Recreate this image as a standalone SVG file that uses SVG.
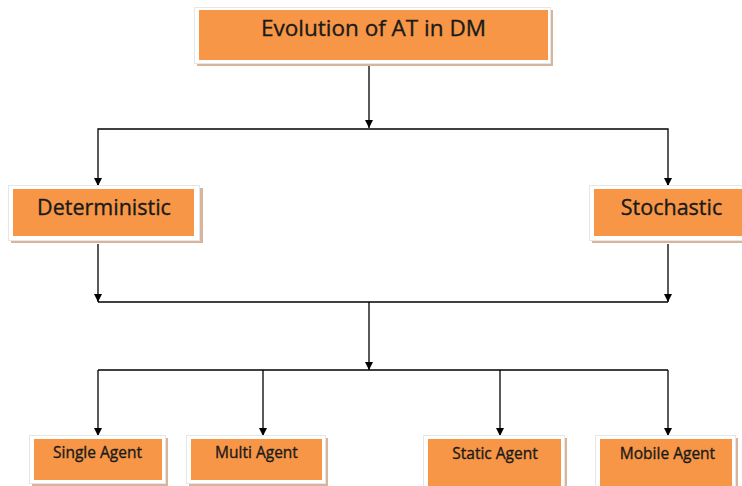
<svg xmlns="http://www.w3.org/2000/svg" width="742" height="486" viewBox="0 0 742 486">
<defs>
<marker id="ah" markerWidth="8" markerHeight="8" refX="8" refY="4" orient="auto" markerUnits="userSpaceOnUse" viewBox="0 0 8 8">
<path d="M0,0 L8,4 L0,8 Z" fill="#000"/>
</marker>
<style>
.sh{fill:#d7b49a}
.fr{fill:#fff;stroke:#e6e6e6;stroke-width:1}
.bx{fill:#f79646}
.t{font-family:"Open Sans","Liberation Sans",Arial,sans-serif;fill:#1a1a1a;stroke:#1a1a1a;stroke-width:0.35;text-anchor:middle}
.c{fill:none;stroke:#000;stroke-width:1.3}
</style>
</defs>
<rect width="742" height="486" fill="#fff"/>
<g id="connectors">
<path class="c" d="M369,62 V128" marker-end="url(#ah)"/>
<path class="c" d="M98,186 V129 H668 V186"/>
<path class="c" d="M98,178 V186" marker-end="url(#ah)"/>
<path class="c" d="M668,178 V186" marker-end="url(#ah)"/>
<path class="c" d="M98,244 V302" marker-end="url(#ah)"/>
<path class="c" d="M668,244 V302" marker-end="url(#ah)"/>
<path class="c" d="M98,302 H668"/>
<path class="c" d="M369,302 V370" marker-end="url(#ah)"/>
<path class="c" d="M98,370 H668"/>
<path class="c" d="M98,370 V436" marker-end="url(#ah)"/>
<path class="c" d="M263,370 V436" marker-end="url(#ah)"/>
<path class="c" d="M500,370 V436" marker-end="url(#ah)"/>
<path class="c" d="M668,370 V436" marker-end="url(#ah)"/>
</g>
<g id="root">
<rect class="sh" x="197" y="10" width="356" height="56"/>
<rect class="fr" x="194.5" y="7.5" width="356" height="56"/>
<rect class="bx" x="199" y="10" width="349" height="50"/>
<text class="t" x="373.5" y="36" font-size="22.5">Evolution of AT in DM</text>
</g>
<g id="deterministic">
<rect class="sh" x="11" y="188" width="192" height="55"/>
<rect class="fr" x="8.5" y="185.5" width="191" height="55"/>
<rect class="bx" x="13" y="189" width="181" height="47"/>
<text class="t" x="104" y="215" font-size="21.5">Deterministic</text>
</g>
<g id="stochastic">
<rect class="sh" x="592" y="188" width="152" height="55"/>
<rect class="fr" x="589.5" y="185.5" width="155" height="55"/>
<rect class="bx" x="594" y="189" width="148" height="47"/>
<text class="t" x="671.5" y="215" font-size="21.5">Stochastic</text>
</g>
<g id="single">
<rect class="sh" x="32" y="438" width="136" height="48"/>
<rect class="fr" x="29.5" y="435.5" width="136" height="48"/>
<rect class="bx" x="34" y="439" width="128" height="41"/>
<text class="t" x="97.5" y="458" font-size="15.5">Single Agent</text>
</g>
<g id="multi">
<rect class="sh" x="189" y="438" width="139" height="48"/>
<rect class="fr" x="186.5" y="435.5" width="139" height="48"/>
<rect class="bx" x="191" y="439" width="131" height="41"/>
<text class="t" x="256.5" y="458" font-size="15.5">Multi Agent</text>
</g>
<g id="static">
<rect class="sh" x="426" y="438" width="141" height="48"/>
<rect class="fr" x="423.5" y="435.5" width="141" height="52"/>
<rect class="bx" x="428" y="439" width="133" height="47"/>
<text class="t" x="495" y="459" font-size="15.5">Static Agent</text>
</g>
<g id="mobile">
<rect class="sh" x="598" y="438" width="140" height="48"/>
<rect class="fr" x="595.5" y="435.5" width="140" height="52"/>
<rect class="bx" x="600" y="439" width="132" height="47"/>
<text class="t" x="667.5" y="459" font-size="15.5">Mobile Agent</text>
</g>
</svg>
